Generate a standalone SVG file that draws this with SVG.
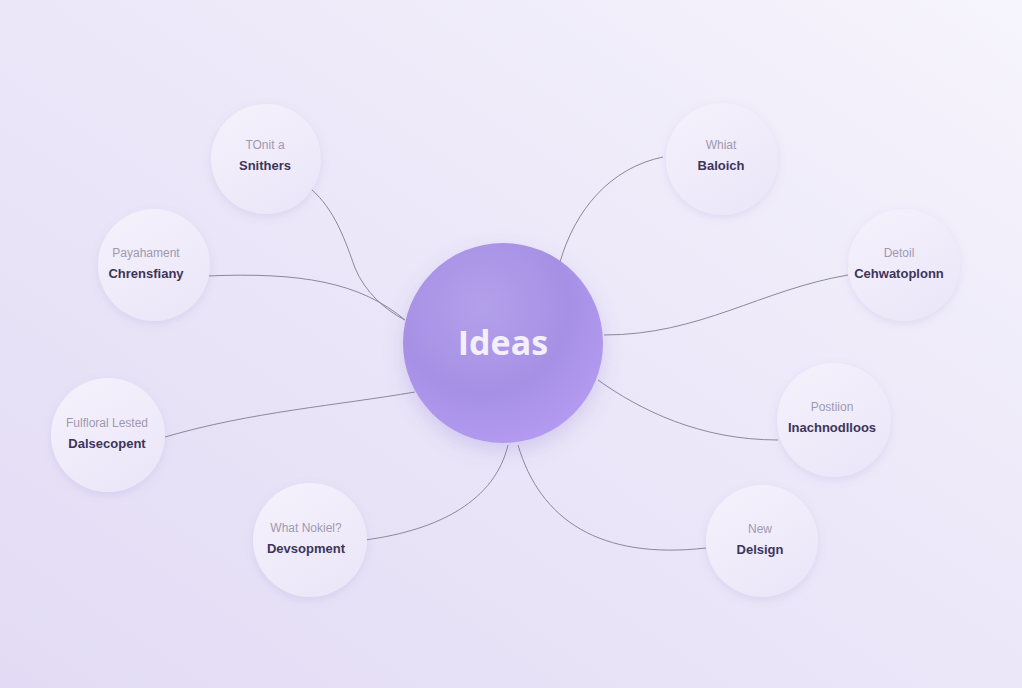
<svg xmlns="http://www.w3.org/2000/svg" width="1022" height="688" viewBox="0 0 1022 688">
<defs>
<linearGradient id="bg" x1="1" y1="0" x2="0" y2="1">
<stop offset="0" stop-color="#f6f4fc"/>
<stop offset="0.45" stop-color="#ece8f9"/>
<stop offset="1" stop-color="#e3dbf5"/>
</linearGradient>
<radialGradient id="sphere" cx="0.4" cy="0.32" r="0.72">
<stop offset="0" stop-color="#b3a0ea"/>
<stop offset="0.6" stop-color="#a690e5"/>
<stop offset="1" stop-color="#b49bf1"/>
</radialGradient>
<linearGradient id="sat" x1="0.2" y1="0" x2="0.8" y2="1">
<stop offset="0" stop-color="#f4f1fc"/>
<stop offset="1" stop-color="#ebe6f8"/>
</linearGradient>
<filter id="shadow" x="-30%" y="-30%" width="160%" height="160%">
<feDropShadow dx="0" dy="3" stdDeviation="4" flood-color="#8a78c0" flood-opacity="0.16"/>
</filter>
<filter id="bigshadow" x="-30%" y="-30%" width="160%" height="160%">
<feDropShadow dx="0" dy="8" stdDeviation="10" flood-color="#7d62d0" flood-opacity="0.22"/>
</filter>
</defs>
<style>
.sat{fill:url(#sat);filter:url(#shadow);}
.t1{font-family:"Liberation Sans",Arial,sans-serif;font-size:12px;fill:#9f99b0;text-anchor:middle;}
.t2{font-family:"Liberation Sans",Arial,sans-serif;font-size:13px;font-weight:bold;fill:#3d3559;text-anchor:middle;}
.con{fill:none;stroke:#8c879a;stroke-width:1;}
</style>
<rect x="0" y="0" width="1022" height="688" fill="url(#bg)"/>
<g id="connectors">
<path class="con" d="M 311 189 C 335 210, 345 240, 355 268 C 365 292, 385 310, 405 320"/>
<path class="con" d="M 207 276 C 300 272, 360 282, 405 320"/>
<path class="con" d="M 165 437 C 250 412, 340 405, 415 392"/>
<path class="con" d="M 365 540 C 440 530, 495 500, 508 445"/>
<path class="con" d="M 663 157 C 610 168, 575 210, 560 262"/>
<path class="con" d="M 848 275 C 760 290, 700 335, 604 335"/>
<path class="con" d="M 778 440 C 700 440, 640 410, 598 380"/>
<path class="con" d="M 706 548 C 600 560, 540 520, 518 445"/>
</g>
<g id="center">
<circle cx="503" cy="343" r="100" fill="url(#sphere)" filter="url(#bigshadow)"/>
<text x="503" y="355" font-family="'Open Sans','Liberation Sans',sans-serif" font-size="34" font-weight="700" fill="#f3effb" text-anchor="middle">Ideas</text>
</g>
<g id="n1">
<circle class="sat" cx="266" cy="159" r="55"/>
<text class="t1" x="265" y="149">TOnit a</text>
<text class="t2" x="265" y="170">Snithers</text>
</g>
<g id="n2">
<circle class="sat" cx="154" cy="265" r="56"/>
<text class="t1" x="146" y="257">Payahament</text>
<text class="t2" x="146" y="278">Chrensfiany</text>
</g>
<g id="n3">
<circle class="sat" cx="108" cy="435" r="57"/>
<text class="t1" x="107" y="427">Fulfloral Lested</text>
<text class="t2" x="107" y="448">Dalsecopent</text>
</g>
<g id="n4">
<circle class="sat" cx="310" cy="540" r="57"/>
<text class="t1" x="306" y="532">What Nokiel?</text>
<text class="t2" x="306" y="553">Devsopment</text>
</g>
<g id="n5">
<circle class="sat" cx="722" cy="159" r="56"/>
<text class="t1" x="721" y="149">Whiat</text>
<text class="t2" x="721" y="170">Baloich</text>
</g>
<g id="n6">
<circle class="sat" cx="904" cy="265" r="56"/>
<text class="t1" x="899" y="257">Detoil</text>
<text class="t2" x="899" y="278">Cehwatoplonn</text>
</g>
<g id="n7">
<circle class="sat" cx="834" cy="420" r="57"/>
<text class="t1" x="832" y="411">Postiion</text>
<text class="t2" x="832" y="432">Inachnodlloos</text>
</g>
<g id="n8">
<circle class="sat" cx="762" cy="541" r="56"/>
<text class="t1" x="760" y="533">New</text>
<text class="t2" x="760" y="554">Delsign</text>
</g>
</svg>
